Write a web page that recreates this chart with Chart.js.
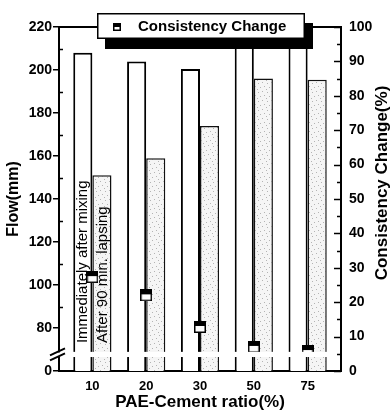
<!DOCTYPE html>
<html>
<head>
<meta charset="utf-8">
<script src="https://cdn.jsdelivr.net/npm/chart.js@4"></script>
<style>
html,body{margin:0;padding:0;background:#fff;}
canvas{display:block;}
</style>
</head>
<body>
<canvas id="c" width="391" height="414" style="width:391px;height:414px"></canvas>
<script>
// ---- data ----
const categories = ['10', '20', '30', '50', '75'];
const flowImmediate = [208, 204, 200.5, 214, 214];      // Flow (mm), white bars
const flowAfter90 = [151, 159, 174, 196, 195.5];         // Flow (mm), dotted bars
const consistencyChange = [27.3, 22, 12.8, 7, 5.8];       // Consistency change (%)
const flowTickValues = [60, 80, 100, 120, 140, 160, 180, 200, 220];
const flowTickLabels = ['0', '80', '100', '120', '140', '160', '180', '200', '220'];
const consistencyTicks = [0, 10, 20, 30, 40, 50, 60, 70, 80, 90, 100];

const seriesNames = ['Immediately after mixing', 'After 90 min. lapsing', 'Consistency Change'];
const xTitle = 'PAE-Cement ratio(%)';
const yTitle = 'Flow(mm)';
const y2Title = 'Consistency Change(%)';

const FONT = "'Liberation Sans', Arial, sans-serif";
const flowBreakAt = 67.7;

function makeMarker(w, h) {
  const c = document.createElement('canvas');
  c.width = w; c.height = h;
  const g = c.getContext('2d');
  g.fillStyle = '#fff'; g.fillRect(0, 0, w, h);
  g.fillStyle = '#000'; g.fillRect(0, 0, w, Math.round(h * 0.45));
  g.strokeStyle = '#000'; g.lineWidth = 1.5;
  g.strokeRect(0.75, 0.75, w - 1.5, h - 1.5);
  return c;
}
const pointMarker = makeMarker(12, 12);
const legendMarker = makeMarker(8, 8);

function makeDots() {
  const c = document.createElement('canvas');
  c.width = 9; c.height = 9;
  const g = c.getContext('2d');
  g.fillStyle = '#f5f5f5'; g.fillRect(0, 0, 9, 9);
  g.fillStyle = '#b4b4b4';
  [[1,1],[6,2],[3,5],[8,6],[5,8]].forEach(p => g.fillRect(p[0], p[1], 1, 1));
  return g.createPattern(c, 'repeat');
}
const dotFill = makeDots();

const idx = categories.map((c, i) => i);

const decor = {
  id: 'decor',
  afterDatasetsDraw(chart) {
    const {ctx, chartArea: a, scales: {y}} = chart;
    const yb1 = y.getPixelForValue(flowBreakAt + 1.2), yb2 = y.getPixelForValue(flowBreakAt - 1.2);
    ctx.save();
    ctx.fillStyle = '#fff';
    ctx.fillRect(a.left + 1, yb1, a.right - a.left - 2, yb2 - yb1);
    const m0 = chart.getDatasetMeta(1).data[0];
    const m1 = chart.getDatasetMeta(2).data[0];
    const yStart = y.getPixelForValue(73);
    ctx.fillStyle = '#000';
    ctx.font = '15px ' + FONT;
    ctx.textAlign = 'left';
    ctx.textBaseline = 'middle';
    [[m0, seriesNames[0]], [m1, seriesNames[1]]].forEach(([el, txt]) => {
      ctx.save();
      ctx.translate(el.x + 0.5, yStart);
      ctx.rotate(-Math.PI / 2);
      ctx.fillText(txt, 0, 0);
      ctx.restore();
    });
    ctx.restore();
  },
  afterDraw(chart) {
    const {ctx, chartArea: a, scales: {y, y2}} = chart;
    ctx.save();
    ctx.strokeStyle = '#000';
    ctx.lineWidth = 2;
    ctx.beginPath(); ctx.moveTo(a.left - 1, a.top); ctx.lineTo(a.right + 1, a.top); ctx.stroke();
    ctx.lineWidth = 1.5;
    for (let v = 90; v < 220; v += 20) {
      const py = Math.round(y.getPixelForValue(v)) + 0.5;
      ctx.beginPath(); ctx.moveTo(a.left, py); ctx.lineTo(a.left + 4, py); ctx.stroke();
    }
    for (let v = 0; v <= 100; v += 5) {
      const py = Math.round(y2.getPixelForValue(v)) + 0.5;
      const len = v % 10 === 0 ? 7 : 4;
      ctx.beginPath(); ctx.moveTo(a.right, py); ctx.lineTo(a.right - len, py); ctx.stroke();
    }
    const yb = y.getPixelForValue(flowBreakAt);
    ctx.fillStyle = '#fff';
    ctx.fillRect(a.left - 2, yb - 2, 4, 4);
    ctx.lineWidth = 2;
    ctx.beginPath();
    ctx.moveTo(a.left - 9, yb + 1); ctx.lineTo(a.left + 6, yb - 6);
    ctx.moveTo(a.left - 9, yb + 6); ctx.lineTo(a.left + 6, yb - 1);
    ctx.stroke();
    ctx.fillStyle = '#000';
    ctx.font = 'bold 17px ' + FONT;
    ctx.textAlign = 'center';
    ctx.textBaseline = 'middle';
    ctx.save();
    ctx.translate(382, 183);
    ctx.rotate(-Math.PI / 2);
    ctx.fillText(y2Title, 0, 0);
    ctx.restore();
    const lx = 97, ly = 13, lw = 208, lh = 26;
    ctx.fillStyle = '#000';
    ctx.fillRect(lx + 8, ly + 10, lw, lh);
    ctx.fillStyle = '#fff';
    ctx.fillRect(lx, ly, lw, lh);
    ctx.lineWidth = 1.5;
    ctx.strokeRect(lx + 0.75, ly + 0.75, lw - 1.5, lh - 1.5);
    ctx.drawImage(legendMarker, lx + 16, ly + 10);
    ctx.fillStyle = '#000';
    ctx.font = 'bold 15px ' + FONT;
    ctx.textAlign = 'left';
    ctx.fillText(seriesNames[2], lx + 41, ly + lh / 2 + 1);
    ctx.restore();
  }
};

new Chart(document.getElementById('c'), {
  data: {
    datasets: [
      {
        type: 'line',
        label: seriesNames[2],
        data: idx.map(i => ({x: i, y: consistencyChange[i]})),
        yAxisID: 'y2',
        showLine: false,
        pointStyle: pointMarker,
        pointRadius: 6,
        order: 0
      },
      {
        type: 'bar',
        label: seriesNames[0],
        data: idx.map(i => ({x: i, y: flowImmediate[i]})),
        yAxisID: 'y',
        backgroundColor: '#fff',
        borderColor: '#000',
        borderWidth: 2,
        borderSkipped: 'start',
        categoryPercentage: 0.71,
        barPercentage: 1.0,
        order: 1
      },
      {
        type: 'bar',
        label: seriesNames[1],
        data: idx.map(i => ({x: i, y: flowAfter90[i]})),
        yAxisID: 'y',
        backgroundColor: dotFill,
        borderColor: '#111',
        borderWidth: 1.5,
        borderSkipped: 'start',
        categoryPercentage: 0.71,
        barPercentage: 1.0,
        order: 1
      }
    ]
  },
  options: {
    responsive: false,
    animation: false,
    devicePixelRatio: 1,
    layout: {padding: {top: 27, left: 0, right: 0, bottom: 0}},
    plugins: {legend: {display: false}, tooltip: {enabled: false}},
    scales: {
      x: {
        type: 'linear',
        position: 'bottom',
        offset: false,
        min: -0.62,
        max: categories.length - 1 + 0.62,
        afterFit: s => { s.height = 43; },
        afterBuildTicks: s => { s.ticks = idx.map(i => ({value: i})); },
        grid: {display: false, drawTicks: false},
        border: {display: true, color: '#000', width: 2},
        ticks: {
          color: '#000',
          font: {family: FONT, size: 13, weight: 'bold'},
          padding: 8,
          maxRotation: 0,
          callback: v => categories[v]
        },
        title: {
          display: true, text: xTitle, color: '#000',
          font: {family: FONT, size: 17, weight: 'bold'},
          padding: {top: 0, bottom: 1}
        }
      },
      y: {
        type: 'linear',
        position: 'left',
        min: 60,
        max: 220,
        afterFit: s => { s.width = 59; },
        afterBuildTicks: s => { s.ticks = flowTickValues.map(v => ({value: v})); },
        grid: {display: true, drawOnChartArea: false, drawTicks: true, tickLength: 6, color: '#000', lineWidth: 1.5},
        border: {display: true, color: '#000', width: 2},
        ticks: {
          color: '#000',
          font: {family: FONT, size: 14, weight: 'bold'},
          padding: 1,
          callback: v => flowTickLabels[flowTickValues.indexOf(v)]
        },
        title: {
          display: true, text: yTitle, color: '#000',
          font: {family: FONT, size: 16, weight: 'bold'},
          padding: {top: 4, bottom: 0}
        }
      },
      y2: {
        type: 'linear',
        position: 'right',
        min: 0,
        max: 100,
        afterFit: s => { s.width = 50; },
        afterBuildTicks: s => { s.ticks = consistencyTicks.map(v => ({value: v})); },
        grid: {display: false, drawTicks: false},
        border: {display: true, color: '#000', width: 2},
        ticks: {
          color: '#000',
          font: {family: FONT, size: 14, weight: 'bold'},
          padding: 8
        }
      }
    }
  },
  plugins: [decor]
});
</script>
</body>
</html>
